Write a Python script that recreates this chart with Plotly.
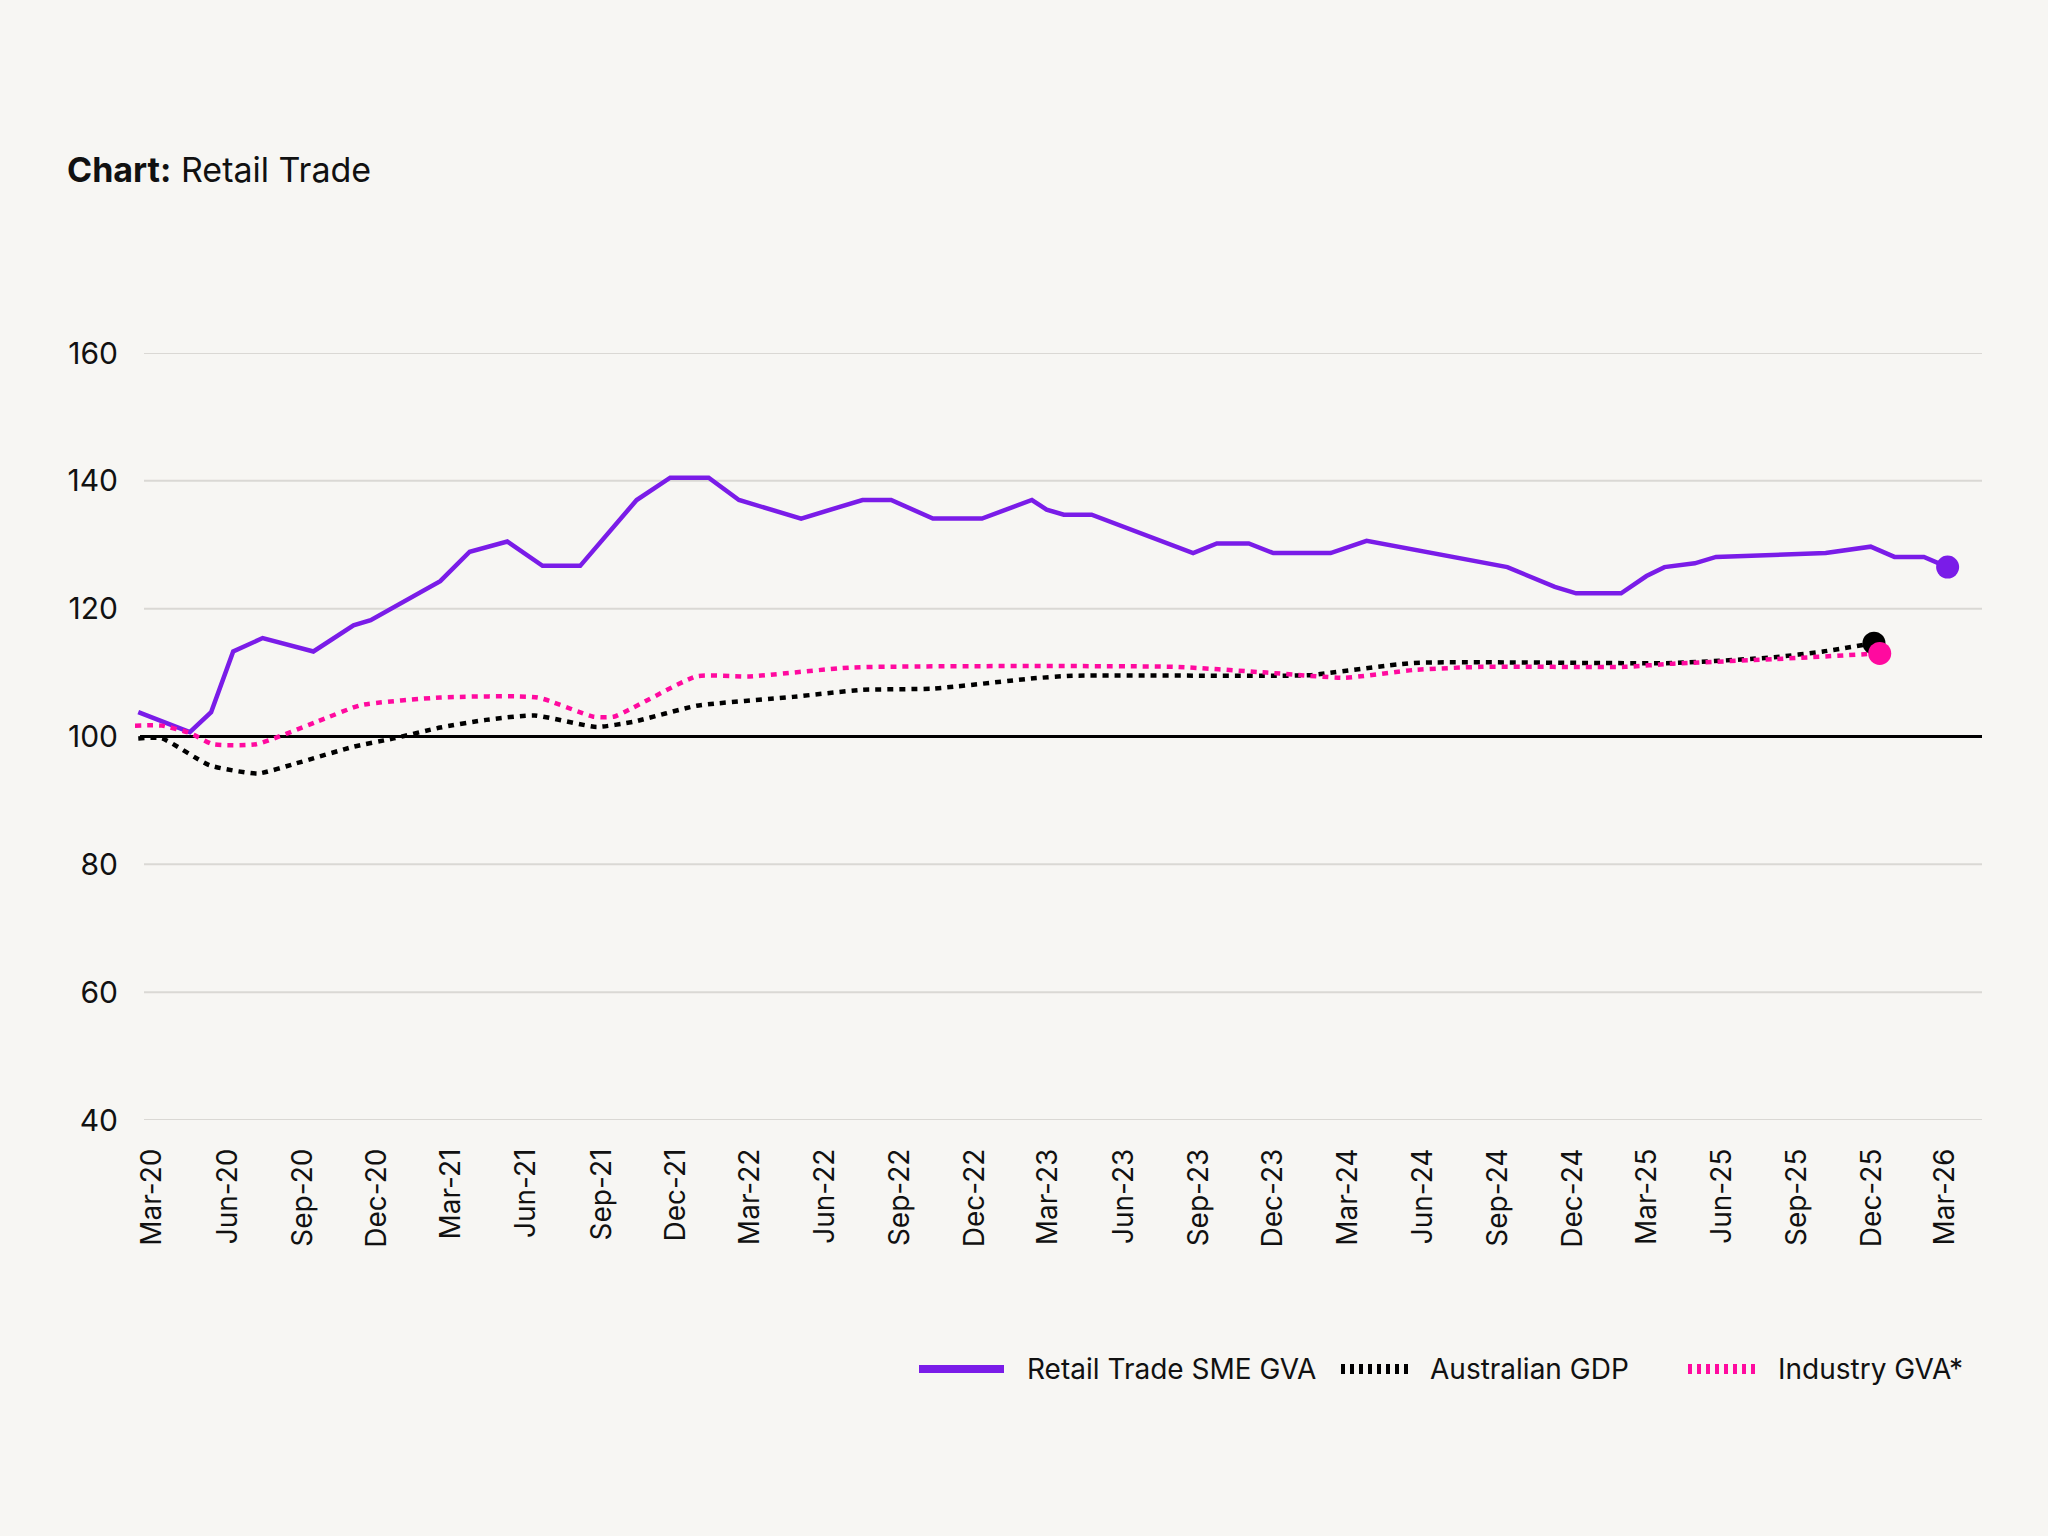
import plotly.graph_objects as go

# ---------------- data ----------------
retail_dates = ["2020-02-13", "2020-04-16", "2020-05-12", "2020-06-08", "2020-07-14", "2020-09-14",
                "2020-11-02", "2020-11-23", "2021-02-16", "2021-03-24", "2021-05-09", "2021-06-21",
                "2021-08-06", "2021-10-14", "2021-11-24", "2022-01-10", "2022-02-16", "2022-05-03",
                "2022-07-17", "2022-08-21", "2022-10-11", "2022-12-10", "2023-02-09", "2023-02-27",
                "2023-03-20", "2023-04-23", "2023-08-25", "2023-09-23", "2023-11-01", "2023-12-01",
                "2024-02-09", "2024-03-24", "2024-09-12", "2024-11-09", "2024-12-05", "2025-01-29",
                "2025-03-01", "2025-03-23", "2025-04-29", "2025-05-25", "2025-10-06", "2025-11-30",
                "2025-12-29", "2026-02-03", "2026-03-04"]
retail_vals = [103.8, 100.7, 103.8, 113.3, 115.4, 113.3, 117.4, 118.2, 124.3, 128.9, 130.5, 126.7,
               126.7, 137.0, 140.5, 140.5, 137.0, 134.1, 137.0, 137.0, 134.1, 134.1, 137.0, 135.5,
               134.7, 134.7, 128.7, 130.2, 130.2, 128.7, 128.7, 130.6, 126.5, 123.4, 122.4, 122.4,
               125.1, 126.5, 127.1, 128.1, 128.7, 129.7, 128.1, 128.1, 126.5]

gdp_dates = ["2020-02-13", "2020-03-13", "2020-05-10", "2020-07-08", "2020-08-24", "2020-11-02",
             "2020-12-21", "2021-02-16", "2021-04-13", "2021-06-11", "2021-08-26", "2021-10-10",
             "2021-12-26", "2022-04-23", "2022-07-17", "2022-10-11", "2023-02-11", "2023-03-30",
             "2023-12-06", "2024-01-15", "2024-05-20", "2025-04-03", "2025-08-04", "2025-10-03",
             "2025-12-04"]
gdp_vals = [99.7, 99.7, 95.5, 94.2, 95.8, 98.4, 99.7, 101.4, 102.6, 103.3, 101.5, 102.3,
            104.8, 106.2, 107.3, 107.5, 109.1, 109.5, 109.5, 109.6, 111.5, 111.5, 112.4, 113.3,
            114.6]

industry_dates = ["2020-02-09", "2020-03-13", "2020-04-17", "2020-05-14", "2020-07-06", "2020-09-18",
                  "2020-11-11", "2021-02-16", "2021-06-15", "2021-08-22", "2021-09-16", "2021-12-26",
                  "2022-03-01", "2022-07-05", "2023-08-01", "2023-11-23", "2024-02-26", "2024-05-20",
                  "2024-08-11", "2025-02-03", "2025-04-03", "2025-08-04", "2025-12-11"]
industry_vals = [101.7, 101.7, 100.5, 98.8, 98.8, 102.3, 104.9, 106.1, 106.1, 103.1, 103.1, 109.4,
                 109.4, 110.8, 110.9, 110.0, 109.2, 110.4, 110.9, 110.9, 111.4, 112.1, 113.0]

series_names = ["Retail Trade SME GVA", "Australian GDP", "Industry GVA*"]

tick_labels = ["Mar-20", "Jun-20", "Sep-20", "Dec-20", "Mar-21", "Jun-21", "Sep-21", "Dec-21",
               "Mar-22", "Jun-22", "Sep-22", "Dec-22", "Mar-23", "Jun-23", "Sep-23", "Dec-23",
               "Mar-24", "Jun-24", "Sep-24", "Dec-24", "Mar-25", "Jun-25", "Sep-25", "Dec-25",
               "Mar-26"]
y_ticks = [40, 60, 80, 100, 120, 140, 160]
baseline = 100

# ---------------- style ----------------
MONTHS = {"Mar": "03", "Jun": "06", "Sep": "09", "Dec": "12"}
tick_vals = ["20" + t[4:] + "-" + MONTHS[t[:3]] + "-01" for t in tick_labels]

BG = "#F7F6F3"
PURPLE = "#7A1CE8"
PINK = "#FF0A9F"
BLACK = "#000000"
GRID = "#DAD8D4"
TXT = "#111111"
FONT = "Inter"

W, H = 2048, 1536
L, R, T, B = 135, 66, 353, 416
PW, PH = W - L - R, H - T - B


def px_x(px):
    return (px - L) / PW


def px_y(py):
    return (H - B - py) / PH


fig = go.Figure()

fig.add_trace(go.Scatter(x=retail_dates, y=retail_vals, mode="lines", name=series_names[0],
                         line=dict(color=PURPLE, width=4.5), showlegend=False, hoverinfo="skip"))
fig.add_trace(go.Scatter(x=gdp_dates, y=gdp_vals, mode="lines", name=series_names[1],
                         line=dict(color=BLACK, width=4.5, dash="6px,6px", shape="spline", smoothing=0.5),
                         showlegend=False, hoverinfo="skip"))
fig.add_trace(go.Scatter(x=industry_dates, y=industry_vals, mode="lines", name=series_names[2],
                         line=dict(color=PINK, width=4.5, dash="6px,6px", shape="spline", smoothing=0.5),
                         showlegend=False, hoverinfo="skip"))

# end-point dots
for d, v, c in [(retail_dates, retail_vals, PURPLE), (gdp_dates, gdp_vals, BLACK),
                (industry_dates, industry_vals, PINK)]:
    fig.add_trace(go.Scatter(x=[d[-1]], y=[v[-1]], mode="markers", showlegend=False,
                             marker=dict(size=23, color=c), hoverinfo="skip", cliponaxis=False))

# gridlines (start slightly right of the plot's left edge, as in the reference)
for yv in y_ticks:
    if yv == baseline:
        continue
    fig.add_shape(type="line", xref="paper", x0=px_x(144), x1=1, yref="y", y0=yv, y1=yv,
                  line=dict(color=GRID, width=2), layer="below")
# baseline at 100
fig.add_shape(type="line", xref="paper", x0=px_x(140), x1=1, yref="y", y0=baseline, y1=baseline,
              line=dict(color=BLACK, width=3), layer="below")

# manual legend
LEG_Y = px_y(1369)
fig.add_shape(type="line", xref="paper", yref="paper", x0=px_x(919), x1=px_x(1004), y0=LEG_Y, y1=LEG_Y,
              line=dict(color=PURPLE, width=8))
fig.add_shape(type="line", xref="paper", yref="paper", x0=px_x(1341), x1=px_x(1408), y0=LEG_Y, y1=LEG_Y,
              line=dict(color=BLACK, width=10, dash="4px,5px"))
fig.add_shape(type="line", xref="paper", yref="paper", x0=px_x(1688), x1=px_x(1757), y0=LEG_Y, y1=LEG_Y,
              line=dict(color=PINK, width=10, dash="4px,5px"))
for name, xpx in zip(series_names, [1025, 1428, 1776]):
    fig.add_annotation(text=name, xref="paper", yref="paper", x=px_x(xpx), y=LEG_Y,
                       xanchor="left", yanchor="middle", showarrow=False,
                       font=dict(family=FONT, size=28, color=TXT))

fig.update_layout(
    width=W, height=H,
    margin=dict(l=L, r=R, t=T, b=B),
    paper_bgcolor=BG, plot_bgcolor=BG,
    showlegend=False,
    font=dict(family=FONT, color=TXT, size=28),
    title=dict(text="<b>Chart:</b> Retail Trade", x=67 / W, xref="container", xanchor="left",
               y=1 - 170 / H, yref="container", yanchor="middle",
               font=dict(family=FONT, size=34, color=TXT)),
    xaxis=dict(type="date", range=["2020-02-09", "2026-04-15"], tickvals=tick_vals, ticktext=tick_labels,
               tickangle=-90, showgrid=False, zeroline=False, showline=False, ticks="",
               tickfont=dict(family=FONT, size=28, color=TXT), ticklabelstandoff=22),
    yaxis=dict(range=[40, 160], tickvals=y_ticks, showgrid=False,
               zeroline=False, showline=False, ticks="",
               tickfont=dict(family=FONT, size=30, color=TXT), ticklabelstandoff=16),
)

fig.write_html("out.html")
